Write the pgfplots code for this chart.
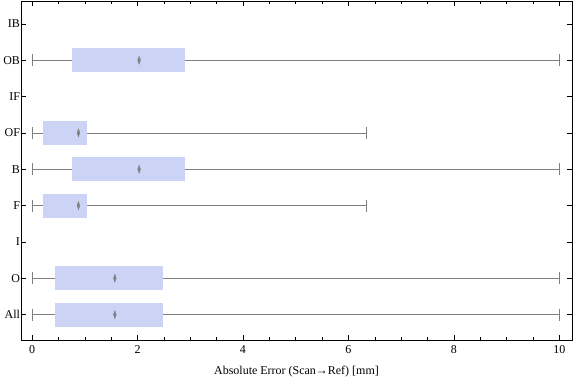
\documentclass[border=0pt]{standalone}
\usepackage{fontspec}
\setmainfont{Liberation Serif}
\usepackage{pgfplots}
\pgfplotsset{compat=1.18}
\usepgfplotslibrary{statistics}
\definecolor{boxc}{RGB}{204,211,245}
\definecolor{whisk}{RGB}{128,128,128}
\begin{document}
\begin{tikzpicture}
\begin{axis}[
  scale only axis, width=552pt, height=340pt,
  xmin=-0.21, xmax=10.24, ymin=0.29, ymax=9.63,
  xtick={0,2,...,10}, minor x tick num=3,
  ytick={1,...,9}, yticklabels={All,O,I,F,B,OF,IF,OB,IB},
  tick align=inside, major tick length=5pt, minor tick length=3pt,
  xlabel={Absolute Error (Scan→Ref) [mm]},
  /pgf/number format/assume math mode=true,
  tick label style={font=\fontsize{12}{14}\selectfont},
  label style={font=\fontsize{12}{14}\selectfont},
  yticklabel style={xshift=2.5pt},
  xticklabel style={yshift=-2pt},
  xlabel style={yshift=-5pt},
  axis line style={line width=0.7pt},
  every tick/.style={black, line width=0.6pt},
  boxplot/draw direction=x,
  boxplot/box extend=0.66,
  boxplot/whisker extend=0.33,
  boxplot/every box/.style={draw=none, fill=boxc},
  boxplot/every whisker/.style={whisk, line width=0.7pt},
  boxplot/every median/.style={draw=none},
]
% All
\addplot[whisk, boxplot prepared={draw position=1, lower whisker=0, lower quartile=0.44, median=1.57, upper quartile=2.48, upper whisker=10}] coordinates {};
% O
\addplot[whisk, boxplot prepared={draw position=2, lower whisker=0, lower quartile=0.44, median=1.57, upper quartile=2.48, upper whisker=10}] coordinates {};
% F
\addplot[whisk, boxplot prepared={draw position=4, lower whisker=0, lower quartile=0.21, median=0.88, upper quartile=1.05, upper whisker=6.34}] coordinates {};
% B
\addplot[whisk, boxplot prepared={draw position=5, lower whisker=0, lower quartile=0.76, median=2.03, upper quartile=2.90, upper whisker=10}] coordinates {};
% OF
\addplot[whisk, boxplot prepared={draw position=6, lower whisker=0, lower quartile=0.21, median=0.88, upper quartile=1.05, upper whisker=6.34}] coordinates {};
% OB
\addplot[whisk, boxplot prepared={draw position=8, lower whisker=0, lower quartile=0.76, median=2.03, upper quartile=2.90, upper whisker=10}] coordinates {};
% medians
\addplot[only marks, mark=diamond*, mark size=4pt, color=whisk, mark options={draw=whisk, fill=whisk, xscale=0.45}]
  coordinates {(1.57,1) (1.57,2) (0.88,4) (2.03,5) (0.88,6) (2.03,8)};
\end{axis}
\path (current axis.north east) ++(4pt,1pt) coordinate (rpad);
\path (current axis.south west) ++(0,-40pt) coordinate (bpad);
\end{tikzpicture}
\end{document}
